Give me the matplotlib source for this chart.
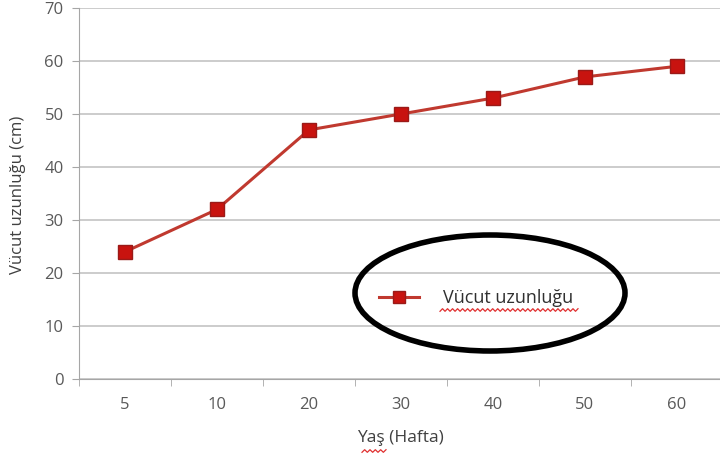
import numpy as np
import matplotlib.pyplot as plt
from matplotlib.patches import Ellipse
from matplotlib.lines import Line2D

# Age (weeks) and body length (cm)
weeks = ['5', '10', '20', '30', '40', '50', '60']
length_cm = [24, 32, 47, 50, 53, 57, 59]

plt.rcParams['font.family'] = ['Open Sans', 'DejaVu Sans']

fig = plt.figure(figsize=(7.2, 4.61), dpi=100)
ax = fig.add_axes([79 / 720, 1 - 379 / 461, 644 / 720, 371 / 461])

x = np.arange(len(weeks))
line, = ax.plot(x, length_cm, color='#c0392f', lw=2.2, marker='s', ms=10,
                markerfacecolor='#c8130f', markeredgecolor='#9a1a18',
                markeredgewidth=1, label='Vücut uzunluğu', zorder=3)

ax.set_xlim(-0.5, len(weeks) - 0.5)
ax.set_ylim(0, 70)
ax.set_yticks(range(0, 71, 10))
ax.set_xticks(x)
ax.set_xticklabels(weeks)
ax.set_xticks(np.arange(-0.5, len(weeks), 1), minor=True)
ax.tick_params(axis='x', which='major', length=0, pad=13)
ax.tick_params(axis='x', which='minor', length=5, color='#a6a6a6')
ax.tick_params(axis='y', length=5, color='#a6a6a6', pad=6)
ax.tick_params(labelsize=12, labelcolor='#595959')

ax.grid(axis='y', color='#c4c4c4', lw=1.2)
ax.set_axisbelow(True)
for side in ['top', 'right']:
    ax.spines[side].set_visible(False)
for side in ['left', 'bottom']:
    ax.spines[side].set_color('#a6a6a6')

fig.text(18 / 720, 1 - 195 / 461, 'Vücut uzunluğu (cm)', rotation=90,
         ha='center', va='center', fontsize=12, color='#404040')
fig.text(400 / 720, 1 - 438 / 461, 'Yaş (Hafta)', ha='center', va='center',
         fontsize=12.5, color='#404040')

# legend inside the plot, circled by hand
leg = ax.legend(handles=[Line2D([], [], color='#c0392f', lw=2.2, marker='s',
                                ms=8, markerfacecolor='#c8130f',
                                markeredgecolor='#9a1a18')],
                labels=['Vücut uzunluğu'], loc='center', frameon=False,
                fontsize=13, bbox_to_anchor=(476 / 720, 1 - 298 / 461),
                bbox_transform=fig.transFigure, handlelength=2.2,
                handletextpad=1.3, labelcolor='#303030')

ell = Ellipse((490 / 720, 1 - 293 / 461), 270 / 720, 116 / 461,
              transform=fig.transFigure, fill=False, ec='black', lw=4)
fig.add_artist(ell)

# red spell-check squiggles
def squiggle(x0, x1, y):
    xs = np.linspace(x0, x1, int((x1 - x0) / 2.5) + 1)
    ys = y + np.where(np.arange(len(xs)) % 2 == 0, 1.3, -1.3)
    fig.add_artist(Line2D(xs / 720, 1 - ys / 461, transform=fig.transFigure,
                          color='#e03030', lw=0.9))

squiggle(440, 578, 310)
squiggle(362, 386, 451)

fig.savefig('out.png', dpi=100)
